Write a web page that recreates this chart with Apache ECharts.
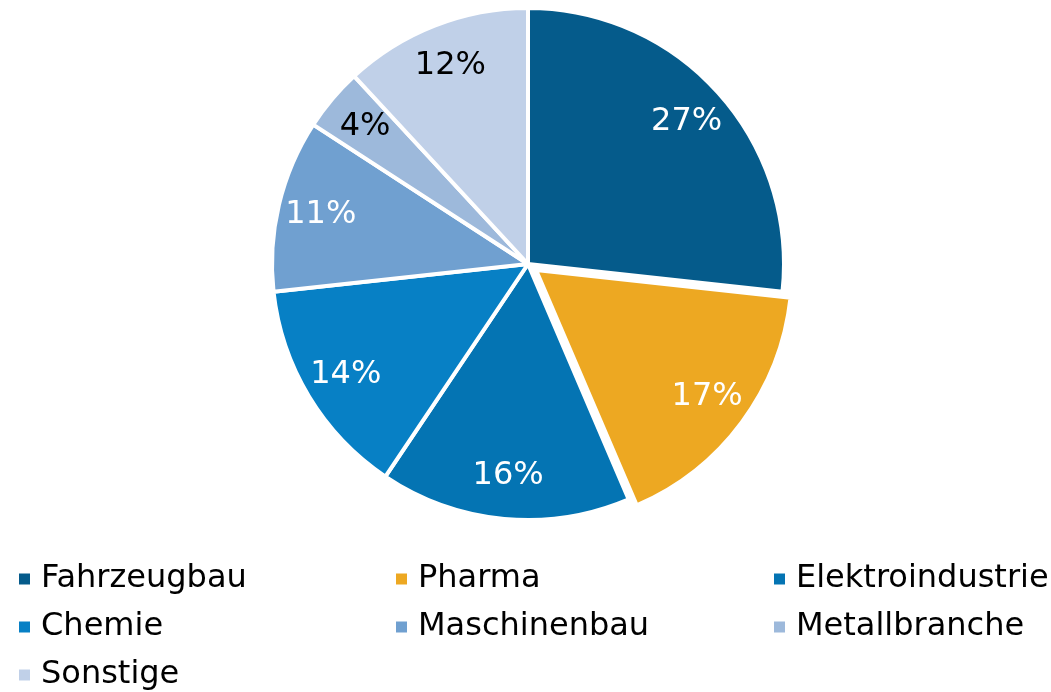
<!DOCTYPE html>
<html>
<head>
<meta charset="utf-8">
<script src="https://cdn.jsdelivr.net/npm/echarts@6/dist/echarts.min.js"></script>
<style>
html, body { margin: 0; padding: 0; background: #fff; }
#main { width: 1051px; height: 692px; }
</style>
</head>
<body>
<div id="main"></div>
<script>
var categories = ['Fahrzeugbau', 'Pharma', 'Elektroindustrie', 'Chemie', 'Maschinenbau', 'Metallbranche', 'Sonstige'];
var values = [27, 17, 16, 14, 11, 4, 12];
var colors = ['#055b8b', '#eda822', '#0474b3', '#0780c5', '#70a0d0', '#9db9db', '#c0d0e8'];
var labelColors = ['#fff', '#fff', '#fff', '#fff', '#fff', '#000', '#000'];
var legendCols = [[0, 3, 6], [1, 4], [2, 5]];

var myChart = echarts.init(document.getElementById('main'));

var font = '"DejaVu Sans", Verdana, sans-serif';

var pieData = categories.map(function (name, i) {
    return {
        name: name,
        value: values[i],
        selected: name === 'Pharma',
        itemStyle: { color: colors[i] }
    };
});

// transparent ring that only carries the percentage labels
var labelData = categories.map(function (name, i) {
    return {
        name: name,
        value: values[i],
        selected: name === 'Pharma',
        label: { color: labelColors[i] }
    };
});

var legends = legendCols.map(function (col, c) {
    return {
        orient: 'vertical',
        left: [17, 394, 772][c],
        top: 563,
        padding: 0,
        height: 129,
        itemWidth: 13,
        itemHeight: 13,
        itemGap: 16,
        icon: 'rect',
        selectedMode: false,
        data: col.map(function (i) { return categories[i]; }),
        textStyle: {
            fontFamily: font,
            fontSize: 32,
            lineHeight: 32,
            color: '#000',
            padding: [0, 0, 0, 5]
        }
    };
});

var option = {
    animation: false,
    legend: legends,
    series: [
        {
            name: 'Branchen',
            type: 'pie',
            center: [528, 264],
            radius: [0, 256],
            startAngle: 90,
            clockwise: true,
            selectedMode: 'single',
            selectedOffset: 10,
            silent: true,
            label: { show: false },
            labelLine: { show: false },
            itemStyle: { borderColor: '#fff', borderWidth: 4 },
            data: pieData
        },
        {
            name: 'Labels',
            type: 'pie',
            center: [528, 264],
            radius: [164, 256],
            startAngle: 90,
            clockwise: true,
            selectedMode: 'single',
            selectedOffset: 10,
            silent: true,
            itemStyle: { color: 'rgba(0,0,0,0)' },
            label: {
                show: true,
                position: 'inside',
                formatter: '{c}%',
                fontFamily: font,
                fontSize: 32
            },
            labelLine: { show: false },
            data: labelData
        }
    ]
};

myChart.setOption(option);
</script>
</body>
</html>
